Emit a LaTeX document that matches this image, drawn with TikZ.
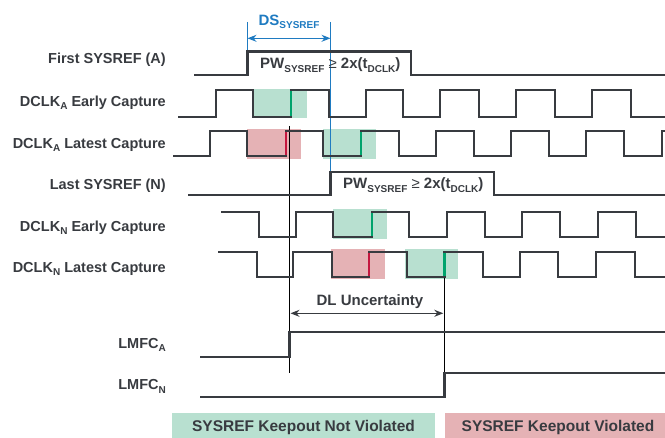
\documentclass[tikz,border=0pt]{standalone}
\usepackage{fontspec}
\setmainfont{Liberation Sans}
\usepackage{xcolor}
\usepackage{tikz}
\usetikzlibrary{arrows.meta}
\definecolor{TDInk}{HTML}{383B40}
\definecolor{TDBlue}{HTML}{1F7BC1}
\definecolor{TDGreen}{HTML}{B8E0D0}
\definecolor{TDRed}{HTML}{E5B2B5}
\definecolor{TDGreenEdge}{HTML}{00A36C}
\definecolor{TDRedEdge}{HTML}{C4173F}
\newcommand{\lowsub}[1]{\raisebox{-0.4ex}{\fontsize{10}{11}\selectfont #1}}

\begin{document}
\begin{tikzpicture}[x=1pt,y=-1pt,
  sig/.style={TDInk,line width=2.6pt},
  lbl/.style={anchor=base east,inner sep=0pt,text=TDInk,font=\fontsize{14.5}{17}\selectfont\bfseries},
  note/.style={inner sep=0pt,text=TDInk,font=\fontsize{15}{18}\selectfont\bfseries},
  marker/.style={black,line width=0.9pt},
  bluemark/.style={TDBlue,line width=1.2pt},
  goodedge/.style={TDGreenEdge,line width=2.6pt},
  badedge/.style={TDRedEdge,line width=2.6pt}]
\path[use as bounding box] (0,0) rectangle (665,438);
% keepout windows
\fill[TDGreen] (253,89) rectangle (307,118);
\fill[TDRed] (247,129) rectangle (301,159);
\fill[TDGreen] (323,129) rectangle (376,159);
\fill[TDGreen] (333,209) rectangle (387,239);
\fill[TDRed] (331,249) rectangle (385,279);
\fill[TDGreen] (405,249) rectangle (458,279);
% row labels
\node[lbl] (firstA) at (166,63.3) {First SYSREF (A)};
\node[lbl] (earlyA) at (166,106.7) {DCLK\lowsub{A} Early Capture};
\node[lbl] (lateA) at (166,148.3) {DCLK\lowsub{A} Latest Capture};
\node[lbl] (lastN) at (166,190) {Last SYSREF (N)};
\node[lbl] (earlyN) at (166,231.7) {DCLK\lowsub{N} Early Capture};
\node[lbl] (lateN) at (166,272.7) {DCLK\lowsub{N} Latest Capture};
\node[lbl] (lmfcA) at (166,348.5) {LMFC\lowsub{A}};
\node[lbl] (lmfcN) at (166,390) {LMFC\lowsub{N}};
% marker lines
\coordinate (mA1) at (289.5,126);
\coordinate (mA2) at (289.5,373);
\coordinate (mN1) at (444.3,277);
\coordinate (mN2) at (444.3,373);
\draw[marker] (mA1) -- (mA2);
\draw[marker] (mN1) -- (mN2);
\coordinate (dsL) at (247.5,22);
\coordinate (dsR) at (330.5,22);
\draw[bluemark] (dsL) -- (247.5,51.5);
\draw[bluemark] (dsR) -- (330.5,172);
% waveforms
\draw[sig] (194,75) -| (247.5,51.5) -| (411,75) -- (665,75);
\draw[sig] (178,117) -| (216,90) -| (253,117) -| (291,90) -| (329,117) -| (366,90) -| (403,117) -| (440,90) -| (479,117) -| (516,90) -| (555,117) -| (592,90) -| (631,117) -- (665,117);
\draw[sig] (173,156) -| (210,131) -| (247,156) -| (286,131) -| (323,156) -| (361,131) -| (399,156) -| (436,131) -| (474,156) -| (511,131) -| (549,156) -| (586,131) -| (624,156) -| (662,131) -- (665,131);
\draw[sig] (188,195) -| (330.5,172) -| (494,195) -- (665,195);
\draw[sig] (221,212) -| (259,237) -| (296,212) -| (333,237) -| (372,212) -| (409,237) -| (447,212) -| (485,237) -| (522,212) -| (560,237) -| (598,212) -| (636,237) -- (665,237);
\draw[sig] (218,252) -| (257,277) -| (293,252) -| (332,277) -| (369,252) -| (407,277) -| (444.3,252) -| (483,277) -| (520,252) -| (558,277) -| (596,252) -| (635,277) -- (665,277);
\draw[sig] (200,357) -| (289.5,332) -- (665,332);
\draw[sig] (200,397) -| (444.3,373) -- (665,373);
% capture edges
\draw[goodedge] (291,116) -- (291,91);
\draw[badedge] (286,155) -- (286,132);
\draw[goodedge] (361,155) -- (361,132);
\draw[goodedge] (372,236) -- (372,213);
\draw[badedge] (369,276) -- (369,253);
\draw[goodedge] (444.3,276) -- (444.3,253);
% pulse width and skew notes
\node[note,anchor=base west] (pwA) at (260,69) {PW\lowsub{SYSREF} {\mdseries ≥} 2x(t\lowsub{DCLK})};
\node[note,anchor=base west] (pwN) at (343,189) {PW\lowsub{SYSREF} {\mdseries ≥} 2x(t\lowsub{DCLK})};
\node[note,anchor=base,text=TDBlue] (ds) at (289,25.5) {DS\lowsub{SYSREF}};
\draw[TDBlue,line width=1.2pt,{Stealth[length=9pt,width=7pt]}-{Stealth[length=9pt,width=7pt]}] ([yshift=-16.3pt]dsL) -- ([yshift=-16.3pt]dsR);
\coordinate (dlL) at (290.5,313.3);
\coordinate (dlR) at (443.3,313.3);
\node[note,anchor=base] (dl) at (370,306) {DL Uncertainty};
\draw[TDInk,line width=1.2pt,{Stealth[length=9pt,width=7pt]}-{Stealth[length=9pt,width=7pt]}] (dlL) -- (dlR);
% legend
\fill[TDGreen] (172,413) rectangle (435,438);
\fill[TDRed] (445,413) rectangle (665,438);
\node[note,anchor=base,font=\fontsize{15.5}{18}\selectfont\bfseries] (okKey) at (303.5,432) {SYSREF Keepout Not Violated};
\node[note,anchor=base,font=\fontsize{15.5}{18}\selectfont\bfseries] (badKey) at (558,432) {SYSREF Keepout Violated};
\end{tikzpicture}
\end{document}
